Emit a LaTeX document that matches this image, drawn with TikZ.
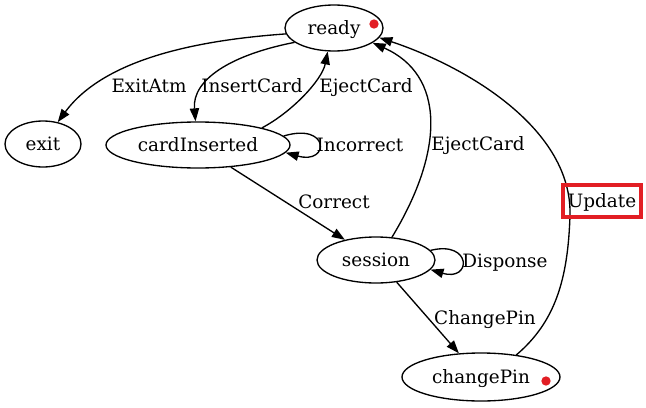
\documentclass[tikz,border=0pt]{standalone}
\usepackage{fontspec}
\setmainfont{DejaVu Serif}
\usetikzlibrary{arrows.meta,shapes.geometric}
\definecolor{gvred}{RGB}{226,30,36}
\begin{document}
\begin{tikzpicture}[x=0.75pt,y=-0.75pt,
  every node/.style={font=\fontsize{13.8pt}{16pt}\selectfont},
  state/.style={draw, ellipse, line width=1pt, inner sep=0pt, text height=11.5pt, text depth=2.5pt},
  lbl/.style={inner sep=0pt, text height=11.5pt, text depth=2.5pt},
  edge/.style={draw, line width=1pt, -{Triangle[length=9.75pt,width=7pt]}},
  dot/.style={circle, fill=gvred, inner sep=0pt, minimum size=7pt},
  upd/.style={draw=gvred, line width=3pt, inner sep=0pt, minimum width=58.5pt, minimum height=24pt, text height=11.5pt, text depth=2.5pt}
]
\useasboundingbox (0,0) rectangle (646,407);
\node[state, minimum width=73.5pt, minimum height=34.5pt] (ready) at (334,28) {ready};
\node[state, minimum width=57pt, minimum height=34.5pt] (exit) at (43,144) {exit};
\node[state, minimum width=138pt, minimum height=34.5pt] (cardins) at (198,145) {cardInserted};
\node[state, minimum width=88.5pt, minimum height=34.5pt] (session) at (376,260) {session};
\node[state, minimum width=118.5pt, minimum height=36pt] (changepin) at (481,377) {changePin};
\node[dot] (d1) at (374,24) {};
\node[dot] (d2) at (546,381) {};

\draw[edge] (ready.187) .. controls (200,40) and (105,58) .. (exit.56);
\draw[edge] (ready.200) .. controls (230,55) and (192,80) .. (cardins.96);
\draw[edge] (cardins.15) .. controls (292,112) and (322,80) .. (ready.255);
\draw[edge] (cardins.6) .. controls (330,122) and (330,165) .. (cardins.-5);
\draw[edge] (cardins.-34) -- (session.147);
\draw[edge] (session.55) .. controls (445,150) and (445,75) .. (ready.-21);
\draw[edge] (session.10) .. controls (472,240) and (472,282) .. (session.-10);
\draw[edge] (session.-47) -- (changepin.133);
\draw[edge] (changepin.32) .. controls (555,322) and (568,280) .. (570,215) .. controls (572,130) and (470,68) .. (ready.-12);

\node[lbl] (lexit) at (149,86) {ExitAtm};
\node[lbl] (lins) at (252,86) {InsertCard};
\node[lbl] (lej1) at (366,86) {EjectCard};
\node[lbl] (linc) at (360,145) {Incorrect};
\node[lbl] (lcor) at (334,202) {Correct};
\node[lbl] (lej2) at (478,144) {EjectCard};
\node[lbl] (ldisp) at (505,261) {Disponse};
\node[lbl] (lchg) at (485,318) {ChangePin};
\node[upd] (lupd) at (602,201) {Update};
\end{tikzpicture}
\end{document}
